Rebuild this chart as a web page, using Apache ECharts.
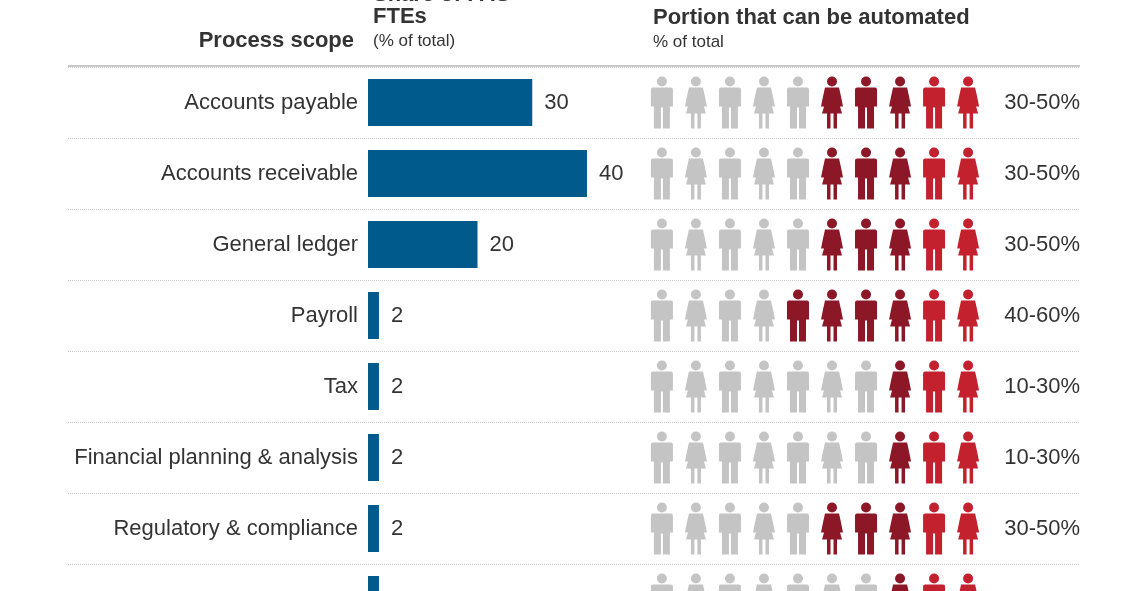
<!DOCTYPE html>
<html>
<head>
<meta charset="utf-8">
<script src="https://cdn.jsdelivr.net/npm/echarts@6/dist/echarts.min.js"></script>
<style>
  html, body { margin: 0; padding: 0; overflow: hidden; background: #fff; }
  #chart { width: 1130px; height: 662px; }
</style>
</head>
<body>
<div id="chart"></div>
<script>
// process rows (the last row is cut off at the bottom of the picture)
const categories = ['Accounts payable', 'Accounts receivable', 'General ledger', 'Payroll', 'Tax',
  'Financial planning & analysis', 'Regulatory & compliance', ''];
const fteShare = [30, 40, 20, 2, 2, 2, 2, 2];
const rangeLabels = ['30-50%', '30-50%', '30-50%', '40-60%', '10-30%', '10-30%', '30-50%', ''];
// number of highlighted figures out of 10 (upper end of range)
const automatedCount = [5, 5, 5, 6, 3, 3, 5, 3];

const FONT = 'Liberation Sans';
const ROW_TOP = 67, ROW_H = 71;
const n = categories.length;

const manPath = 'path://M6,5a5,5 0 1,0 10,0a5,5 0 1,0 -10,0Z M2,11H20Q22,11 22,13V30H19V52H12V31H10V52H3V30H0V13Q0,11 2,11Z';
const womanPath = 'path://M6,5a5,5 0 1,0 10,0a5,5 0 1,0 -10,0Z M4,11H18L20,20L22,30H19L21,37H16V52H12.5V37H9.5V52H6V37H1L3,30H0L2,20Z';

// figure data: [position, row]
let figures = [];
for (let r = 0; r < n; r++) {
  for (let i = 0; i < 10; i++) {
    let color = '#c4c4c4';
    if (i >= 10 - automatedCount[r]) color = i >= 8 ? '#c4212f' : '#8c1727';
    figures.push({
      value: [i, r],
      symbol: i % 2 === 0 ? manPath : womanPath,
      itemStyle: { color: color, opacity: 1 }
    });
  }
}

let barData = fteShare.map(function (v, r) {
  return { value: v, label: { show: categories[r] !== '' } };
});

let myChart = echarts.init(document.getElementById('chart'));
let option = {
  animation: false,
  textStyle: { fontFamily: FONT },
  grid: [
    { left: 68, width: 1012, top: ROW_TOP, height: n * ROW_H },
    { left: 368, width: 219, top: ROW_TOP, height: n * ROW_H },
    { left: 650, width: 330, top: ROW_TOP, height: n * ROW_H }
  ],
  xAxis: [
    { gridIndex: 0, type: 'value', show: false },
    { gridIndex: 1, type: 'value', min: 0, max: 40, show: false },
    { gridIndex: 2, type: 'value', min: -0.35, max: 9.35, show: false }
  ],
  yAxis: [
    {
      gridIndex: 0, type: 'category', inverse: true, data: categories,
      axisLine: { show: false }, axisTick: { show: false }, axisLabel: { show: false },
      splitLine: { show: true, lineStyle: { color: '#cfcfcf', type: [1, 1], width: 1 } }
    },
    {
      gridIndex: 1, type: 'category', inverse: true, data: categories,
      axisLine: { show: false }, axisTick: { show: false },
      axisLabel: { fontSize: 22, color: '#333', margin: 10, fontFamily: FONT }
    },
    {
      gridIndex: 2, type: 'category', inverse: true, data: rangeLabels, position: 'right',
      axisLine: { show: false }, axisTick: { show: false },
      axisLabel: { fontSize: 22, color: '#333', margin: 100, align: 'right', fontFamily: FONT }
    }
  ],
  graphic: [
    { type: 'line', shape: { x1: 68, y1: 66, x2: 1080, y2: 66 }, style: { stroke: '#c8c8c8', lineWidth: 2 } },
    { type: 'text', right: 1130 - 354, top: 30, style: { text: 'Process scope', font: 'bold 22px ' + FONT, fill: '#333' } },
    { type: 'text', left: 373, top: -16, style: { text: 'Share of FAS\nFTEs', font: 'bold 22px ' + FONT, fill: '#333', lineHeight: 22 } },
    { type: 'text', left: 373, top: 33, style: { text: '(% of total)', font: '17px ' + FONT, fill: '#333' } },
    { type: 'text', left: 653, top: 7, style: { text: 'Portion that can be automated', font: 'bold 22px ' + FONT, fill: '#333' } },
    { type: 'text', left: 653, top: 34, style: { text: '% of total', font: '17px ' + FONT, fill: '#333' } }
  ],
  series: [
    {
      type: 'bar', xAxisIndex: 1, yAxisIndex: 1, data: barData,
      barWidth: 47, itemStyle: { color: '#005a8c' },
      label: { show: true, position: 'right', distance: 12, fontSize: 22, color: '#333', fontFamily: FONT }
    },
    {
      type: 'scatter', xAxisIndex: 2, yAxisIndex: 2, data: figures,
      symbolSize: [22, 52], silent: true
    }
  ]
};
myChart.setOption(option, true);
window.addEventListener('resize', () => {
  myChart.resize();
});
</script>
</body>
</html>
